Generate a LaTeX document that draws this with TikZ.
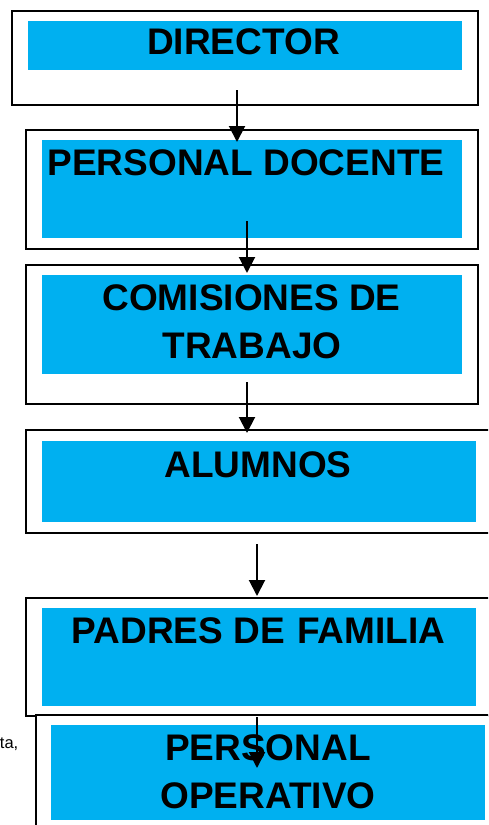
\documentclass[tikz,border=0pt]{standalone}
\usepackage{fontspec}
\setmainfont{Liberation Sans}
\usetikzlibrary{arrows.meta}
\definecolor{skyblue}{HTML}{00B0F0}
\tikzset{
  outerbox/.style={draw=black, line width=2pt, fill=white, inner sep=0pt, anchor=north west},
  bluebox/.style={fill=skyblue, draw=none, inner sep=0pt, anchor=north west},
  lbl/.style={font=\bfseries\fontsize{37}{44}\selectfont, inner sep=0pt, anchor=base},
  arr/.style={line width=2pt, -{Triangle[length=16pt,width=16pt]}},
}
\begin{document}
\begin{tikzpicture}[x=1pt,y=-1pt]
\useasboundingbox (0,0) rectangle (488,825);
\clip (0,0) rectangle (488,825);
% box 1
\node[outerbox, minimum width=466pt, minimum height=94pt] (b1) at (11,10) {};
\node[bluebox, minimum width=434pt, minimum height=49pt] (i1) at (28,21) {};
\node[lbl] (t1) at (243.5,54) {DIRECTOR};
% box 2
\node[outerbox, minimum width=452pt, minimum height=119pt] (b2) at (25,129) {};
\node[bluebox, minimum width=420pt, minimum height=98pt] (i2) at (42,140) {};
\node[lbl] (t2) at (246,175) {PERSONAL DOCENTE};
% box 3
\node[outerbox, minimum width=452pt, minimum height=139pt] (b3) at (25,264) {};
\node[bluebox, minimum width=420pt, minimum height=99pt] (i3) at (42,275) {};
\node[lbl] (t3a) at (251.5,310) {COMISIONES DE};
\node[lbl] (t3b) at (252,358) {TRABAJO};
% box 4
\node[outerbox, minimum width=470pt, minimum height=103pt] (b4) at (25,429) {};
\node[bluebox, minimum width=434pt, minimum height=81pt] (i4) at (42,441) {};
\node[lbl] (t4) at (258,477) {ALUMNOS};
% box 5
\node[outerbox, minimum width=470pt, minimum height=118pt] (b5) at (25,597) {};
\node[bluebox, minimum width=434pt, minimum height=98pt] (i5) at (42,608) {};
\node[lbl] (t5) at (258.5,643) {PADRES DE\hspace{2pt} FAMILIA};
% box 6
\node[outerbox, minimum width=470pt, minimum height=130pt] (b6) at (35,714) {};
\node[bluebox, minimum width=434pt, minimum height=95pt] (i6) at (51,725) {};
\node[lbl] (t6a) at (268,760) {PERSONAL};
\node[lbl] (t6b) at (268,808) {OPERATIVO};
% stray text
\node[font=\fontsize{16.5}{19}\selectfont, inner sep=0pt, anchor=base east] (ta) at (18.5,748) {ta,};
% arrows
\coordinate (s1) at (237,90);  \coordinate (e1) at (237,142);
\coordinate (s2) at (247,221); \coordinate (e2) at (247,273);
\coordinate (s3) at (247,382); \coordinate (e3) at (247,433);
\coordinate (s4) at (257,544); \coordinate (e4) at (257,596);
\coordinate (s5) at (257,717); \coordinate (e5) at (257,768);
\draw[arr] (s1) -- (e1);
\draw[arr] (s2) -- (e2);
\draw[arr] (s3) -- (e3);
\draw[arr] (s4) -- (e4);
\draw[arr] (s5) -- (e5);
\end{tikzpicture}
\end{document}
